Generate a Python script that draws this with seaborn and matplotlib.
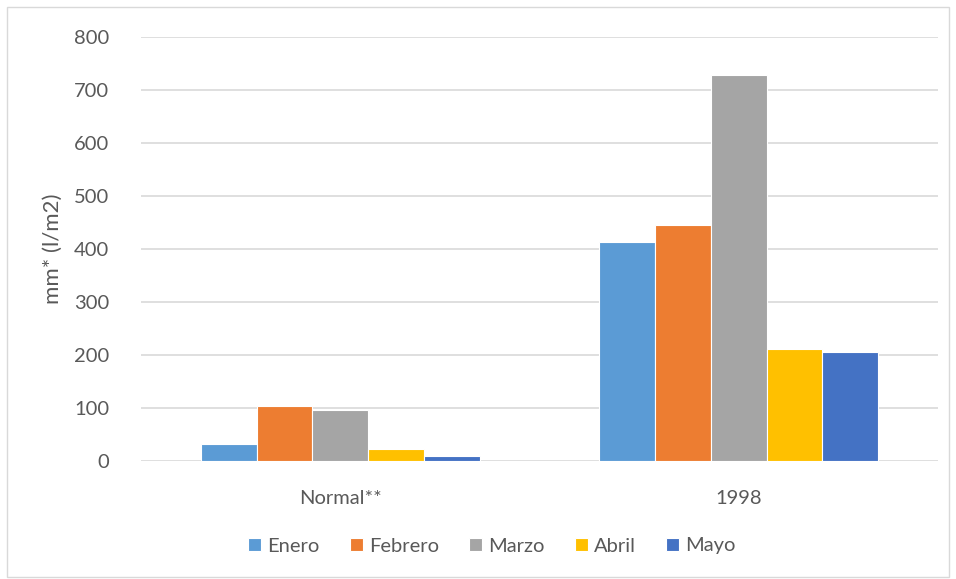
import pandas as pd
import matplotlib.pyplot as plt
import seaborn as sns
from matplotlib.patches import Rectangle

# datos
categorias = ['Normal**', '1998']
meses = ['Enero', 'Febrero', 'Marzo', 'Abril', 'Mayo']
normal = [33, 103, 97, 22, 9]
anio_1998 = [413, 445, 728, 211, 205]
colores = ['#5B9BD5', '#ED7D31', '#A5A5A5', '#FFC000', '#4472C4']

filas = []
for cat, vals in zip(categorias, [normal, anio_1998]):
    for mes, v in zip(meses, vals):
        filas.append({'cat': cat, 'mes': mes, 'valor': v})
df = pd.DataFrame(filas)

sns.set_theme(style='white')
plt.rcParams['font.family'] = ['Lato', 'DejaVu Sans']
gris_texto = '#595959'

fig = plt.figure(figsize=(9.56, 5.79), dpi=100)
ax = fig.add_axes([141 / 956, 1 - 461 / 579, (938 - 141) / 956, (461 - 37) / 579])

sns.barplot(data=df, x='cat', y='valor', hue='mes', hue_order=meses,
            palette=colores, saturation=1, width=0.7, gap=0,
            edgecolor='white', linewidth=0.8, ax=ax, legend=True)

ax.set_ylim(0, 800)
ax.set_yticks(range(0, 801, 100))
ax.yaxis.grid(True, color='#D9D9D9', linewidth=1.2)
ax.set_axisbelow(True)
for s in ax.spines.values():
    s.set_visible(False)
ax.tick_params(axis='both', length=0, labelsize=14.5, colors=gris_texto)
ax.tick_params(axis='y', pad=23)
ax.tick_params(axis='x', pad=21)
ax.set_xlabel('')
ax.set_ylabel('mm* (l/m2)', fontsize=16, color=gris_texto, labelpad=8)

handles, labels = ax.get_legend_handles_labels()
ax.get_legend().remove()
fig.legend(handles, labels, loc='center', bbox_to_anchor=(492 / 956, 1 - 546 / 579),
           ncol=5, frameon=False, fontsize=14.5, handlelength=0.65, handleheight=0.65,
           handletextpad=0.3, columnspacing=1.5, labelcolor=gris_texto)

# borde exterior
fig.patches.append(Rectangle((7 / 956, 2 / 579), 942 / 956, 570 / 579,
                             transform=fig.transFigure, fill=False,
                             edgecolor='#D9D9D9', linewidth=1))

fig.savefig('out.png', dpi=100)
